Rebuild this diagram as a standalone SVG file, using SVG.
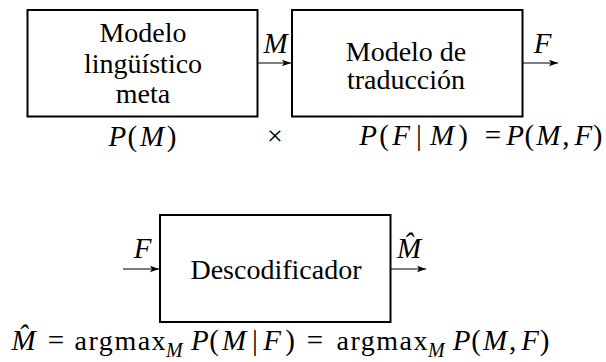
<svg xmlns="http://www.w3.org/2000/svg" width="606" height="362" viewBox="0 0 606 362">
<defs>
<marker id="ah" markerWidth="10" markerHeight="8" refX="9" refY="4" orient="auto" markerUnits="userSpaceOnUse">
<path d="M0,0.8 L9,4 L0,7.2 L2,4 Z" fill="#000"/>
</marker>
</defs>
<style>
.box{fill:#fff;stroke:#000;stroke-width:2}
text{font-family:'Liberation Serif','DejaVu Serif',serif;font-size:28px;fill:#000}
.t{text-anchor:middle}
.mt{font-size:29px;text-anchor:middle}
.i{font-style:italic}
.s{font-size:20px;font-style:italic}
.c{stroke:#000;stroke-width:1.2;fill:none;marker-end:url(#ah)}
</style>
<rect width="606" height="362" fill="#fff"/>
<g id="lm">
<rect class="box" x="27.5" y="10" width="230" height="106.5"/>
<text class="t" x="143" y="42">Modelo</text>
<text class="t" x="143" y="72.5">lingüístico</text>
<text class="t" x="143" y="103">meta</text>
</g>
<g id="tm">
<rect class="box" x="292" y="10" width="230.5" height="106.5"/>
<text class="t" x="406" y="60.5">Modelo de</text>
<text class="t" x="406" y="88.5">traducción</text>
</g>
<g id="dec">
<rect class="box" x="160" y="215" width="230.5" height="107"/>
<text class="t" x="276" y="279">Descodificador</text>
</g>
<g id="connectors">
<line class="c" x1="258" y1="63" x2="291" y2="63"/>
<line class="c" x1="523" y1="63" x2="558" y2="63"/>
<line class="c" x1="123" y1="269" x2="159" y2="269"/>
<line class="c" x1="391" y1="269" x2="426" y2="269"/>
</g>
<g id="labels">
<text class="mt i" x="275.5" y="53">M</text>
<text class="mt i" x="542.5" y="53">F</text>
<text class="mt i" x="142.5" y="258">F</text>
<text class="mt i" x="409" y="258">M̂</text>
<text class="mt" y="146"><tspan class="i" x="117.3">P</tspan><tspan x="132.3">(</tspan><tspan class="i" x="152">M</tspan><tspan x="171.6">)</tspan></text>
<text class="t" x="275" y="145">×</text>
<text class="mt" y="145"><tspan class="i" x="368">P</tspan><tspan x="384">(</tspan><tspan class="i" x="401">F</tspan><tspan x="419">|</tspan><tspan class="i" x="442">M</tspan><tspan x="463">)</tspan></text>
<text class="mt" x="493" y="145">=</text>
<text class="mt" y="145"><tspan class="i" x="515">P</tspan><tspan x="529.4">(</tspan><tspan class="i" x="548.3">M</tspan><tspan x="565.8">,</tspan><tspan class="i" x="583.3">F</tspan><tspan x="597.6">)</tspan></text>
<text class="mt" y="350"><tspan class="i" x="23.6">M̂</tspan><tspan x="55.9">=</tspan></text>
<text x="74.6" y="350" font-size="29" textLength="91" lengthAdjust="spacing">argmax</text>
<text class="s" x="166" y="357">M</text>
<text class="mt" y="350"><tspan class="i" x="199.8">P</tspan><tspan x="214.2">(</tspan><tspan class="i" x="234">M</tspan><tspan x="255">|</tspan><tspan class="i" x="272">F</tspan><tspan x="290">)</tspan><tspan x="315">=</tspan></text>
<text x="336.5" y="350" font-size="29" textLength="91" lengthAdjust="spacing">argmax</text>
<text class="s" x="428" y="357">M</text>
<text class="mt" y="350"><tspan class="i" x="461.7">P</tspan><tspan x="476.2">(</tspan><tspan class="i" x="495.2">M</tspan><tspan x="512.7">,</tspan><tspan class="i" x="530.2">F</tspan><tspan x="544.7">)</tspan></text>
</g>
</svg>
